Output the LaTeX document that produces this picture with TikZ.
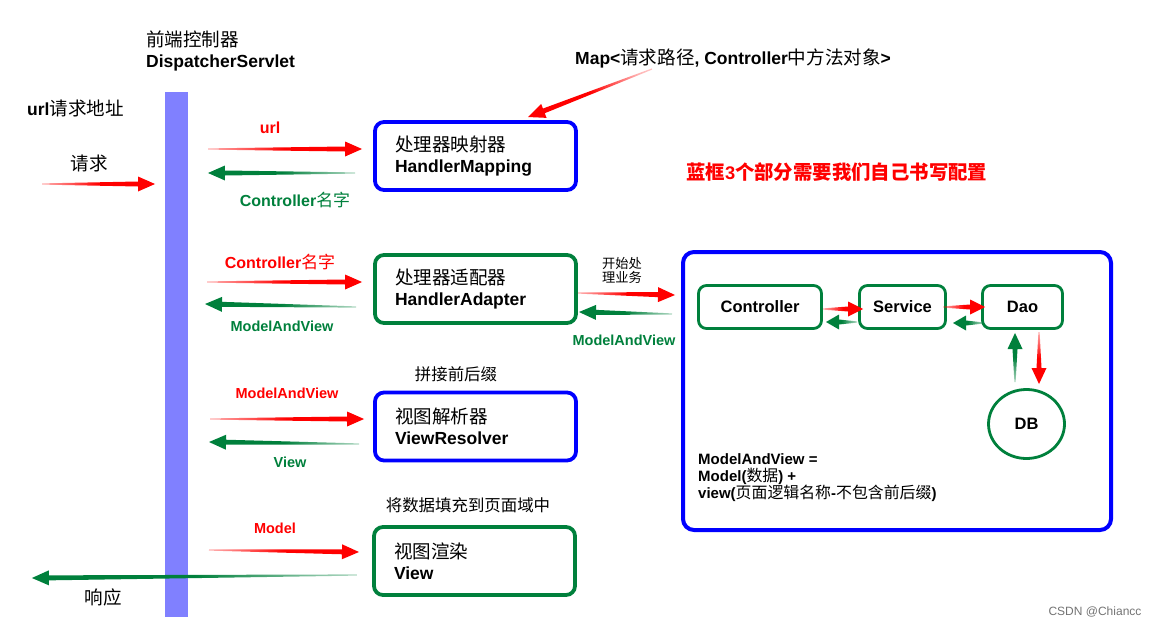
\documentclass[tikz,border=0pt]{standalone}
\usepackage{fontspec}
\setmainfont{Liberation Sans}
\newfontfamily\cjk{Noto Sans CJK SC}[Scale=1.06]
\usetikzlibrary{calc,fadings,shapes.geometric}
\definecolor{myblue}{RGB}{0,0,255}
\definecolor{mygreen}{RGB}{0,128,60}
\definecolor{myred}{RGB}{255,0,0}
\definecolor{barblue}{RGB}{128,128,255}
\newcommand\zh[1]{{\cjk\mdseries #1}}
\newcommand\zhb[1]{{\cjk\bfseries #1}}
\pgfdeclarehorizontalshading{tailshade}{100bp}{color(0bp)=(black); color(25bp)=(black!70); color(50bp)=(white); color(100bp)=(white)}
\pgfdeclarefading{tailfade}{\pgfuseshading{tailshade}}
% tapered arrow: [head length]{colour}{from}{to}
\newcommand\tarrow[4][17pt]{%
  \path (#3) coordinate (tA) (#4) coordinate (tB);
  \pgfpointdiff{\pgfpointanchor{tA}{center}}{\pgfpointanchor{tB}{center}}%
  \pgfgetlastxy\tdx\tdy
  \pgfmathsetmacro\tang{atan2(\tdy,\tdx)}%
  \path ($(tB)!#1!(tA)$) coordinate (tH);
  \fill[#2, path fading=tailfade, fading angle=\tang]
    ($(tA)!0.6pt!90:(tB)$) -- ($(tH)!2.5pt!90:(tB)$) -- ($(tH)!7.5pt!90:(tB)$) -- (tB)
    -- ($(tH)!7.5pt!-90:(tB)$) -- ($(tH)!2.5pt!-90:(tB)$) -- ($(tA)!0.6pt!-90:(tB)$) -- cycle;
}
\begin{document}
\begin{tikzpicture}[x=1pt,y=-1pt,
  box/.style={line width=3.8pt, rounded corners=9pt, minimum width=201pt, minimum height=68pt,
    text width=161pt, align=left, inner sep=0pt, font=\fontsize{17.5}{21}\selectfont\bfseries},
  bbox/.style={box, draw=myblue},
  gbox/.style={box, draw=mygreen},
  sbox/.style={draw=mygreen, line width=2.8pt, rounded corners=8pt, minimum height=43pt,
    inner sep=0pt, font=\fontsize{16.5}{20}\selectfont\bfseries},
  lab/.style={inner sep=0pt, font=\fontsize{16}{19}\selectfont\bfseries},
  big/.style={inner sep=0pt, font=\fontsize{17.5}{21}\selectfont\bfseries},
  slab/.style={inner sep=0pt, font=\fontsize{14.5}{17}\selectfont\bfseries},
  note/.style={inner sep=0pt, font=\fontsize{15.5}{18}\selectfont},
]
\useasboundingbox (0,0) rectangle (1153,626);
% DispatcherServlet bar
\node[fill=barblue, minimum width=23pt, minimum height=525pt, inner sep=0pt] (bar) at (176.5,354.5) {};
\node[big, anchor=west, align=left] (ds) at (146,50.5) {\zh{前端控制器}\\DispatcherServlet};
\node[big, anchor=west] (urlreq) at (27,108) {url\zh{请求地址}};
\node[big] (req) at (89,163) {\zh{请求}};
\node[big] (resp) at (103,597) {\zh{响应}};
% boxes
\node[bbox] (hm) at (475.5,156) {\zh{处理器映射器}\\HandlerMapping};
\node[gbox] (ha) at (475.5,289) {\zh{处理器适配器}\\HandlerAdapter};
\node[bbox] (vr) at (475.5,426.5) {\zh{视图解析器}\\ViewResolver};
\node[gbox] (vw) at (474.5,561) {\zh{视图渲染}\\View};
% big box
\node[draw=myblue, line width=4pt, rounded corners=11pt, minimum width=428pt, minimum height=278pt] (bigbox) at (897,391) {};
\node[sbox, minimum width=123pt] (ctrl) at (760,307) {Controller};
\node[sbox, minimum width=86pt] (svc) at (902.5,307) {Service};
\node[sbox, minimum width=80pt] (dao) at (1022.5,307) {Dao};
\node[ellipse, draw=mygreen, line width=2.8pt, minimum width=76pt, minimum height=69pt, inner sep=0pt,
  font=\fontsize{16.5}{20}\selectfont\bfseries] (db) at (1026.5,424) {DB};
\node[inner sep=0pt, anchor=west, align=left, font=\fontsize{15}{17}\selectfont\bfseries] (mav) at (698,478)
  {ModelAndView =\\Model(\zh{数据}) +\\view(\zh{页面逻辑名称}-\zh{不包含前后缀})};
% labels
\node[big, anchor=west] (map) at (575,58) {Map<\zh{请求路径}, Controller\zh{中方法对象}>};
\node[inner sep=0pt, anchor=west, text=myred, font=\fontsize{18.3}{22}\selectfont\bfseries] (blue3) at (686,172)
  {\zhb{蓝框}3\zhb{个部分需要我们自己书写配置}};
\node[lab, text=myred] (l1) at (270,128) {url};
\node[lab, text=mygreen] (l2) at (295,200) {Controller\zh{名字}};
\node[lab, text=myred] (l3) at (280,262) {Controller\zh{名字}};
\node[slab, text=mygreen] (l4) at (282,326) {ModelAndView};
\node[slab, text=myred] (l5) at (287,393) {ModelAndView};
\node[slab, text=mygreen] (l6) at (290,462) {View};
\node[slab, text=myred] (l7) at (275,528) {Model};
\node[slab, text=mygreen] (l8) at (624,340) {ModelAndView};
\node[inner sep=0pt, align=center, font=\fontsize{12.5}{14}\selectfont] (l9) at (622,270) {\zh{开始处}\\\zh{理业务}};
\node[note] (l10) at (456,374) {\zh{拼接前后缀}};
\node[note] (l11) at (468,505) {\zh{将数据填充到页面域中}};
\node[inner sep=0pt, text=black!55, font=\fontsize{12}{14}\selectfont] (csdn) at (1095,612) {CSDN @Chiancc};
% connector end points
\coordinate (a1s) at (42,184);   \coordinate (a1e) at (155,184);
\coordinate (a2s) at (208,149);  \coordinate (a2e) at (362,149);
\coordinate (a3s) at (355,173);  \coordinate (a3e) at (208,173);
\coordinate (a4s) at (207,282);  \coordinate (a4e) at (362,282);
\coordinate (a5s) at (356,307);  \coordinate (a5e) at (205,304);
\coordinate (a6s) at (210,419);  \coordinate (a6e) at (364,419);
\coordinate (a7s) at (359,444);  \coordinate (a7e) at (209,442);
\coordinate (a8s) at (209,550);  \coordinate (a8e) at (359,552);
\coordinate (a9s) at (357,575);  \coordinate (a9e) at (32,578);
\coordinate (a10s) at (578,293); \coordinate (a10e) at (675,295);
\coordinate (a11s) at (672,314); \coordinate (a11e) at (579,312);
\coordinate (a12s) at (652,69);  \coordinate (a12e) at (528,117);
\coordinate (a13s) at (823,309); \coordinate (a13e) at (863,309);
\coordinate (a14s) at (857,322); \coordinate (a14e) at (826,322);
\coordinate (a15s) at (943,307); \coordinate (a15e) at (985,307);
\coordinate (a16s) at (983,323); \coordinate (a16e) at (953,323);
\coordinate (a17s) at (1015,382);\coordinate (a17e) at (1015,333);
\coordinate (a18s) at (1039,332);\coordinate (a18e) at (1039,384);
% connectors
\tarrow{myred}{a1s}{a1e}
\tarrow{myred}{a2s}{a2e}
\tarrow{mygreen}{a3s}{a3e}
\tarrow{myred}{a4s}{a4e}
\tarrow{mygreen}{a5s}{a5e}
\tarrow{myred}{a6s}{a6e}
\tarrow{mygreen}{a7s}{a7e}
\tarrow{myred}{a8s}{a8e}
\tarrow{mygreen}{a9s}{a9e}
\tarrow{myred}{a10s}{a10e}
\tarrow{mygreen}{a11s}{a11e}
\tarrow{myred}{a12s}{a12e}
\tarrow[15pt]{myred}{a13s}{a13e}
\tarrow[13pt]{mygreen}{a14s}{a14e}
\tarrow[15pt]{myred}{a15s}{a15e}
\tarrow[13pt]{mygreen}{a16s}{a16e}
\tarrow[16pt]{mygreen}{a17s}{a17e}
\tarrow[16pt]{myred}{a18s}{a18e}
\end{tikzpicture}
\end{document}
